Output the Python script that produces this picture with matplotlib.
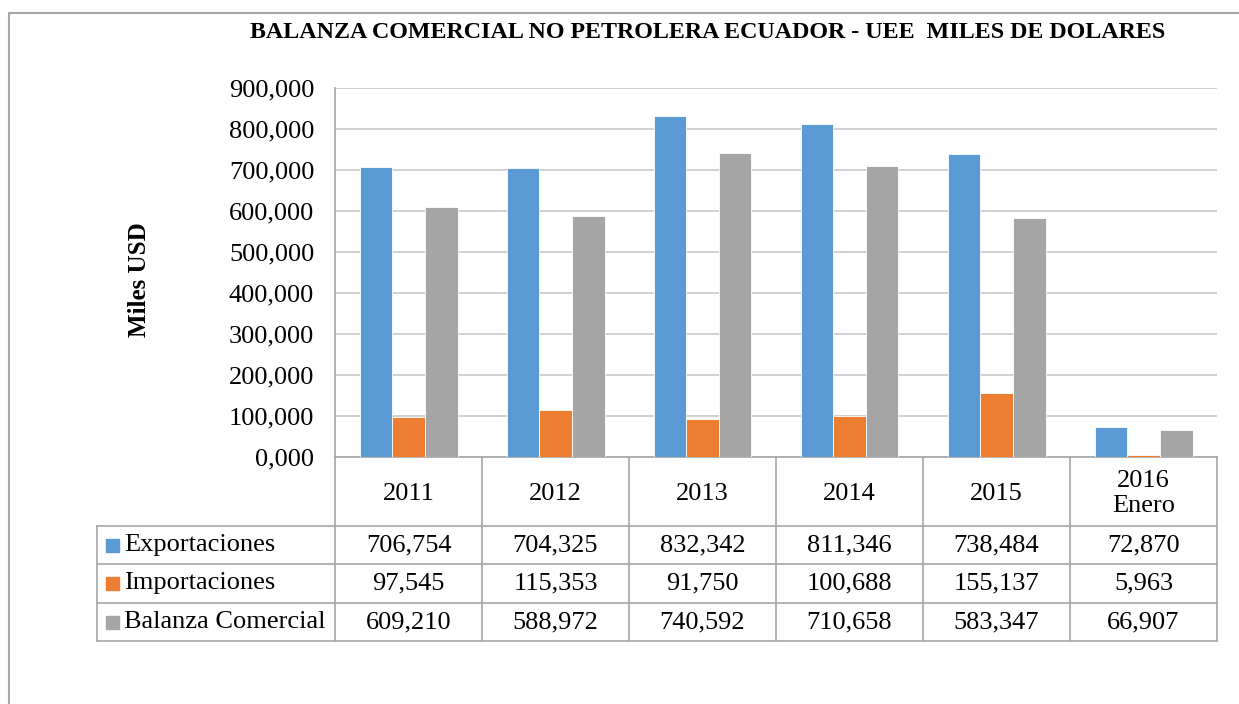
import matplotlib
matplotlib.use("Agg")
import matplotlib.pyplot as plt
from matplotlib.lines import Line2D
from matplotlib.patches import Rectangle

categories = ["2011", "2012", "2013", "2014", "2015", "2016\nEnero"]
series_names = ["Exportaciones", "Importaciones", "Balanza Comercial"]
exportaciones = [706.754, 704.325, 832.342, 811.346, 738.484, 72.870]
importaciones = [97.545, 115.353, 91.750, 100.688, 155.137, 5.963]
balanza = [609.210, 588.972, 740.592, 710.658, 583.347, 66.907]
colors = ["#5B9BD5", "#ED7D31", "#A5A5A5"]
yticks = [0, 100, 200, 300, 400, 500, 600, 700, 800, 900]
title = "BALANZA COMERCIAL NO PETROLERA ECUADOR - UEE  MILES DE DOLARES"

plt.rcParams['font.family'] = ['Liberation Serif', 'DejaVu Serif']

def fmt(v):
    # decimal comma, three decimals, as in the original sheet
    return f"{v:.3f}".replace(".", ",")

W, H = 1239, 704
fig = plt.figure(figsize=(W / 100, H / 100), dpi=100)

# pixel layout (from top-left)
px_left, px_right = 335, 1217
px_top, px_bottom = 88, 457
tbl_left = 97
row_edges = [457, 526, 564, 603, 641]
grid_col = "#C8C8C8"
tbl_col = "#A6A6A6"

ax = fig.add_axes([px_left / W, 1 - px_bottom / H,
                   (px_right - px_left) / W, (px_bottom - px_top) / H])

n = len(categories)
x = list(range(n))
bw = 1 / 4.5
all_series = [exportaciones, importaciones, balanza]
for i, vals in enumerate(all_series):
    ax.bar([xi + (i - 1) * bw for xi in x], vals, bw, color=colors[i],
           edgecolor="white", linewidth=0.6, zorder=3)

ax.set_xlim(-0.5, n - 0.5)
ax.set_ylim(0, 900)
ax.set_yticks(yticks)
ax.set_yticklabels([fmt(v) for v in yticks], fontsize=19)
ax.set_xticks([])
ax.tick_params(axis="y", length=0, pad=15)
ax.grid(axis="y", color=grid_col, linewidth=1.2, zorder=0)
for s in ["top", "right"]:
    ax.spines[s].set_visible(False)
for s in ["left", "bottom"]:
    ax.spines[s].set_color(tbl_col)
    ax.spines[s].set_linewidth(1.2)

fig.text(139 / W, 1 - 280 / H, "Miles USD", rotation=90, fontsize=18,
         fontweight="bold", ha="center", va="center")
fig.text(708 / W, 1 - 33 / H, title, fontsize=17.3, fontweight="bold",
         ha="center", va="center")

# data table drawn in pixel coordinates
def fx(p):
    return p / W

def fy(p):
    return 1 - p / H

colw = (px_right - px_left) / n
lines = []
for ye in row_edges[1:]:
    lines.append(((tbl_left, px_right), (ye, ye)))
lines.append(((tbl_left, tbl_left), (row_edges[1], row_edges[-1])))
for k in range(n + 1):
    xe = px_left + k * colw
    lines.append(((xe, xe), (row_edges[0], row_edges[-1])))
for (xs, ys) in lines:
    fig.add_artist(Line2D([fx(v) for v in xs], [fy(v) for v in ys],
                          color=tbl_col, linewidth=1.2))

for k, cat in enumerate(categories):
    cx = px_left + (k + 0.5) * colw
    cy = (row_edges[0] + row_edges[1]) / 2 + 2
    fig.text(fx(cx), fy(cy), cat, fontsize=19, ha="center", va="center",
             linespacing=1.15)

for r, (name, vals) in enumerate(zip(series_names, all_series)):
    cy = (row_edges[r + 1] + row_edges[r + 2]) / 2
    fig.add_artist(Rectangle((fx(106), fy(cy + 6.5)), 13 / W, 13 / H,
                             color=colors[r]))
    fig.text(fx(124), fy(cy), name, fontsize=19, ha="left", va="center")
    for k, v in enumerate(vals):
        cx = px_left + (k + 0.5) * colw
        fig.text(fx(cx), fy(cy), fmt(v), fontsize=19, ha="center", va="center")

# outer chart border
fig.add_artist(Line2D([fx(9), fx(9), fx(W + 5)], [fy(H + 5), fy(13), fy(13)],
                      color=tbl_col, linewidth=1.5))

fig.savefig("out.png", dpi=100)
